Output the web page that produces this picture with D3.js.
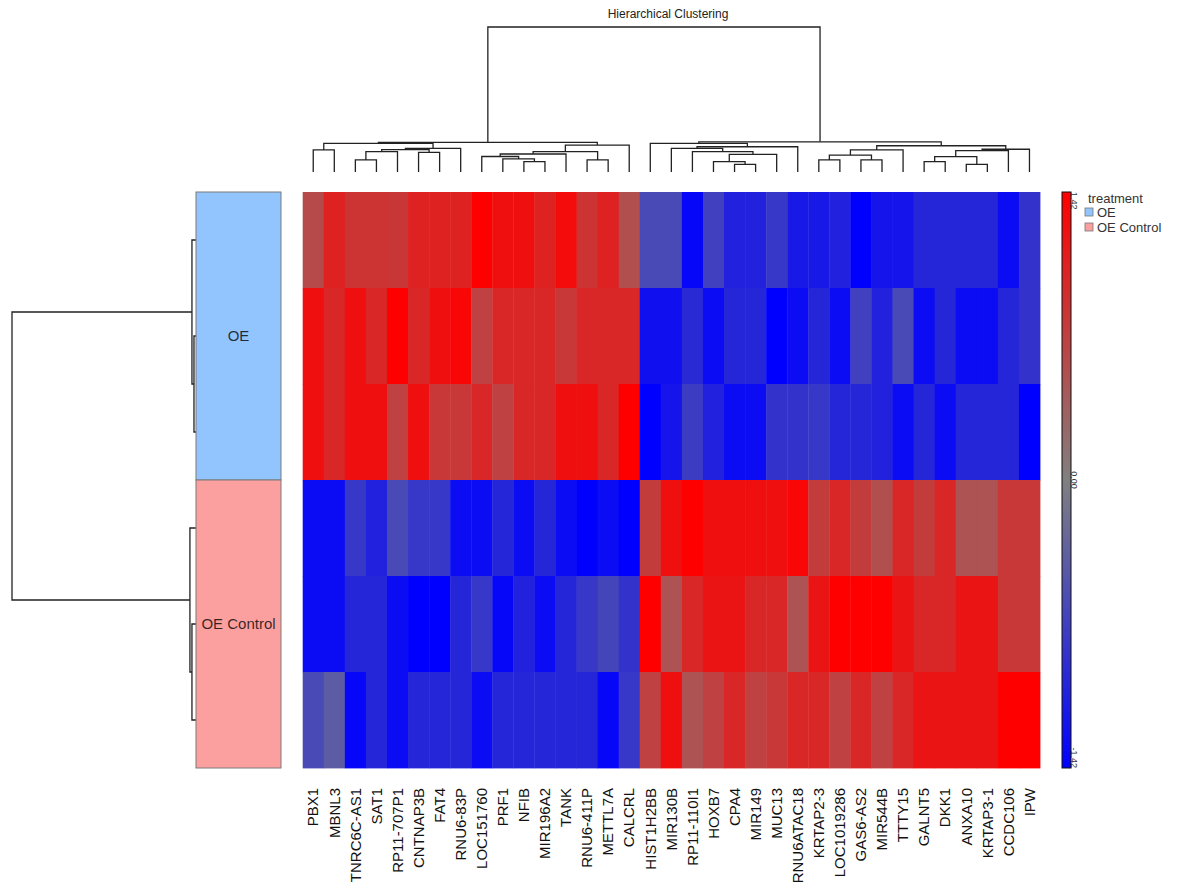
<!DOCTYPE html>
<html>
<head>
<meta charset="utf-8">
<script src="https://cdn.jsdelivr.net/npm/d3@7"></script>
<style>
  body { margin: 0; background: #fff; }
  svg text { font-family: "Liberation Sans", Arial, sans-serif; }
</style>
</head>
<body>
<svg id="chart" width="1181" height="888"></svg>
<script>
// genes (columns), in dendrogram order
var genes = ["PBX1", "MBNL3", "TNRC6C-AS1", "SAT1", "RP11-707P1", "CNTNAP3B", "FAT4", "RNU6-83P",
  "LOC151760", "PRF1", "NFIB", "MIR196A2", "TANK", "RNU6-411P", "METTL7A", "CALCRL",
  "HIST1H2BB", "MIR130B", "RP11-110I1", "HOXB7", "CPA4", "MIR149", "MUC13", "RNU6ATAC18",
  "KRTAP2-3", "LOC1019286", "GAS6-AS2", "MIR544B", "TTTY15", "GALNT5", "DKK1", "ANXA10",
  "KRTAP3-1", "CCDC106", "IPW"];

var samples = ["OE_1", "OE_2", "OE_3", "Ctrl_1", "Ctrl_2", "Ctrl_3"];
var treatment = ["OE", "OE", "OE", "OE Control", "OE Control", "OE Control"];
var treatmentLevels = ["OE", "OE Control"];
var treatmentColors = ["#92c5fd", "#fc9f9f"];

// scaled expression, one array per sample row
var OE_1 = [0.6, 1.05, 0.85, 0.85, 0.82, 1.05, 1.05, 1.05, 1.42, 1.25, 1.25, 1.05, 1.3, 0.85, 1.05, 0.55,
  -0.6, -0.6, -1.35, -0.7, -1.05, -1.05, -0.8, -1.15, -1.15, -1.05, -1.42, -1.2, -1.2, -1.0, -1.0, -1.0, -1.0, -1.3, -0.85];
var OE_2 = [1.25, 1.0, 1.25, 1.0, 1.42, 1.0, 1.25, 1.35, 0.7, 1.0, 1.0, 1.0, 0.8, 1.0, 1.0, 1.0,
  -1.25, -1.25, -0.95, -1.3, -1.0, -1.0, -1.42, -1.3, -1.0, -1.3, -0.7, -1.05, -0.6, -1.3, -1.0, -1.3, -1.3, -1.0, -0.85];
var OE_3 = [1.25, 1.0, 1.25, 1.25, 0.7, 1.25, 0.8, 0.8, 1.0, 0.7, 1.0, 1.0, 1.25, 1.25, 1.0, 1.42,
  -1.42, -1.2, -0.75, -1.05, -1.3, -1.3, -0.85, -0.85, -0.8, -1.0, -1.0, -1.05, -1.3, -1.0, -1.3, -1.0, -1.0, -1.0, -1.42];
var Ctrl_1 = [-1.3, -1.3, -0.8, -1.05, -0.6, -0.8, -0.8, -1.3, -1.3, -1.0, -1.3, -1.0, -1.3, -1.42, -1.3, -1.42,
  0.75, 1.25, 1.42, 1.25, 1.25, 1.25, 1.25, 1.35, 0.75, 1.0, 0.75, 0.55, 1.0, 0.75, 1.0, 0.5, 0.5, 0.8, 0.8];
var Ctrl_2 = [-1.3, -1.3, -1.0, -1.0, -1.3, -1.42, -1.42, -1.0, -0.8, -1.35, -1.05, -1.3, -1.0, -0.8, -0.65, -0.85,
  1.42, 0.5, 1.0, 1.2, 1.2, 1.0, 1.0, 0.5, 1.2, 1.42, 1.42, 1.42, 1.2, 1.0, 1.0, 1.2, 1.2, 0.8, 0.8];
var Ctrl_3 = [-0.6, -0.4, -1.35, -1.0, -1.3, -1.0, -1.0, -1.0, -1.3, -1.0, -1.0, -1.0, -1.0, -1.0, -1.35, -0.8,
  0.7, 1.25, 0.5, 0.7, 1.0, 0.7, 0.8, 1.0, 1.0, 0.7, 1.0, 0.7, 1.0, 1.2, 1.2, 1.2, 1.2, 1.42, 1.42];

// dendrograms: [height, left, right], leaves are names
var colTree = [10,
  [2.05,
    [1.98, [1.52, "PBX1", "MBNL3"],
      [1.63, [1.54, [1.40, [0.83, "TNRC6C-AS1", "SAT1"], "RP11-707P1"], [1.36, "CNTNAP3B", "FAT4"]], "RNU6-83P"]],
    [1.86, [1.41, [1.24, [1.07, "LOC151760", [0.90, "PRF1", [0.71, "NFIB", "MIR196A2"]]], "TANK"],
      [0.83, "RNU6-411P", "METTL7A"]], "CALCRL"]],
  [2.08,
    [1.98, "HIST1H2BB",
      [1.74, [1.63, "MIR130B", [1.40, "RP11-110I1", [1.22, [0.71, "HOXB7", [0.53, "CPA4", "MIR149"]], "MUC13"]]], "RNU6ATAC18"]],
    [1.81, [1.52, [1.17, [0.83, "KRTAP2-3", "LOC1019286"], [0.83, "GAS6-AS2", "MIR544B"]], "TTTY15"],
      [1.57, [1.47, [1.06, [0.71, "GALNT5", "DKK1"], [0.53, "ANXA10", "KRTAP3-1"]], "CCDC106"], "IPW"]]]];

var rowTree = [10,
  [0.22, "OE_1", [0.11, "OE_2", "OE_3"]],
  [0.33, "Ctrl_1", [0.22, "Ctrl_2", "Ctrl_3"]]];

var colorDomain = [-1.42, 0, 1.42];
var colorRange = ["#0000ff", "#808080", "#ff0000"];
var colorTickLabels = ["-1.42", "0.00", "1.42"];

var title = "Hierarchical Clustering";

var rows = [OE_1, OE_2, OE_3, Ctrl_1, Ctrl_2, Ctrl_3];

var svg = d3.select("#chart");

var x = d3.scaleBand().domain(genes).range([302.7, 1040]);
var y = d3.scaleBand().domain(samples).range([192, 768]);
var color = d3.scaleLinear().domain(colorDomain).range(colorRange);

// heatmap cells
var cells = [];
rows.forEach(function(r, i) {
  r.forEach(function(v, j) {
    cells.push({ sample: samples[i], gene: genes[j], value: v });
  });
});

svg.append("g")
  .selectAll("rect")
  .data(cells)
  .enter().append("rect")
  .attr("x", function(d) { return x(d.gene); })
  .attr("y", function(d) { return y(d.sample); })
  .attr("width", x.bandwidth() + 0.4)
  .attr("height", y.bandwidth() + 0.4)
  .attr("fill", function(d) { return color(d.value); });

// column labels
svg.append("g")
  .selectAll("text")
  .data(genes)
  .enter().append("text")
  .attr("transform", function(d) {
    return "translate(" + (x(d) + x.bandwidth() / 2) + ",788) rotate(-90)";
  })
  .attr("text-anchor", "end")
  .attr("dy", "0.35em")
  .attr("font-size", 15)
  .attr("fill", "#111")
  .text(function(d) { return d; });

// dendrograms
function toNode(a) {
  if (Array.isArray(a)) return { h: a[0], children: [toNode(a[1]), toNode(a[2])] };
  return { h: 0, name: a };
}

function dendroPaths(tree, leafPos) {
  var root = d3.hierarchy(toNode(tree));
  root.eachAfter(function(d) {
    d.pos = d.children ? d3.mean(d.children, function(c) { return c.pos; }) : leafPos(d.data.name);
  });
  return root.descendants().filter(function(d) { return d.children; });
}

var colH = d3.scaleLinear().domain([0, colTree[0]]).range([172, 27]);
svg.append("g")
  .selectAll("path")
  .data(dendroPaths(colTree, function(n) { return x(n) + x.bandwidth() / 2; }))
  .enter().append("path")
  .attr("fill", "none")
  .attr("stroke", "#222")
  .attr("stroke-width", 1.3)
  .attr("d", function(d) {
    var a = d.children[0], b = d.children[1];
    return "M" + a.pos + "," + colH(a.data.h) + "V" + colH(d.data.h) +
      "H" + b.pos + "V" + colH(b.data.h);
  });

var rowH = d3.scaleLinear().domain([0, rowTree[0]]).range([196, 12]);
svg.append("g")
  .selectAll("path")
  .data(dendroPaths(rowTree, function(n) { return y(n) + y.bandwidth() / 2; }))
  .enter().append("path")
  .attr("fill", "none")
  .attr("stroke", "#222")
  .attr("stroke-width", 1.3)
  .attr("d", function(d) {
    var a = d.children[0], b = d.children[1];
    return "M" + rowH(a.data.h) + "," + a.pos + "H" + rowH(d.data.h) +
      "V" + b.pos + "H" + rowH(b.data.h);
  });

svg.append("text")
  .attr("x", 668)
  .attr("y", 18)
  .attr("text-anchor", "middle")
  .attr("font-size", 12)
  .attr("fill", "#222")
  .text(title);

// treatment annotation bar
var tColor = d3.scaleOrdinal().domain(treatmentLevels).range(treatmentColors);
var groupsData = treatmentLevels.map(function(t) {
  var s = samples.filter(function(d, i) { return treatment[i] === t; });
  return { name: t, first: s[0], last: s[s.length - 1], mid: s[Math.floor(s.length / 2)] };
});

var ann = svg.append("g");
ann.selectAll("rect")
  .data(groupsData)
  .enter().append("rect")
  .attr("x", 196)
  .attr("width", 85)
  .attr("y", function(d) { return y(d.first); })
  .attr("height", function(d) { return y(d.last) + y.bandwidth() - y(d.first); })
  .attr("fill", function(d) { return tColor(d.name); })
  .attr("stroke", "#7a7a7a")
  .attr("stroke-width", 1);

ann.selectAll("text")
  .data(groupsData)
  .enter().append("text")
  .attr("x", 238.5)
  .attr("y", function(d) { return y(d.mid) + y.bandwidth() / 2; })
  .attr("dy", "0.35em")
  .attr("text-anchor", "middle")
  .attr("font-size", 15)
  .attr("fill", "rgba(0,0,0,0.78)")
  .text(function(d) { return d.name; });

// colorbar
var cb = d3.scaleLinear().domain([colorDomain[0], colorDomain[2]]).range([768, 192]);
var grad = svg.append("defs").append("linearGradient")
  .attr("id", "cbgrad")
  .attr("x1", 0).attr("y1", 1).attr("x2", 0).attr("y2", 0);
d3.range(0, 1.0001, 0.05).forEach(function(t) {
  grad.append("stop")
    .attr("offset", t)
    .attr("stop-color", color(colorDomain[0] + t * (colorDomain[2] - colorDomain[0])));
});
svg.append("rect")
  .attr("x", 1062)
  .attr("y", 192)
  .attr("width", 9)
  .attr("height", 576)
  .attr("fill", "url(#cbgrad)")
  .attr("stroke", "#111")
  .attr("stroke-width", 1);

svg.append("g")
  .selectAll("text")
  .data(colorTickLabels)
  .enter().append("text")
  .attr("transform", function(d) { return "translate(1071," + cb(+d) + ") rotate(90)"; })
  .attr("text-anchor", function(d, i) { return i === 0 ? "end" : (i === 2 ? "start" : "middle"); })
  .attr("font-size", 9)
  .attr("fill", "#333")
  .text(function(d) { return d; });

// legend
var leg = svg.append("g").attr("transform", "translate(1085,0)");
leg.append("text")
  .attr("x", 3)
  .attr("y", 203)
  .attr("font-size", 13)
  .attr("fill", "#333")
  .text("treatment");
var li = leg.selectAll("g.item")
  .data(treatmentLevels)
  .enter().append("g")
  .attr("class", "item")
  .attr("transform", function(d, i) { return "translate(0," + (208 + i * 15) + ")"; });
li.append("rect")
  .attr("width", 8)
  .attr("height", 8)
  .attr("fill", function(d) { return tColor(d); })
  .attr("stroke", "#777")
  .attr("stroke-width", 0.8);
li.append("text")
  .attr("x", 12)
  .attr("y", 4)
  .attr("dy", "0.38em")
  .attr("font-size", 13)
  .attr("fill", "#333")
  .text(function(d) { return d; });
</script>
</body>
</html>
